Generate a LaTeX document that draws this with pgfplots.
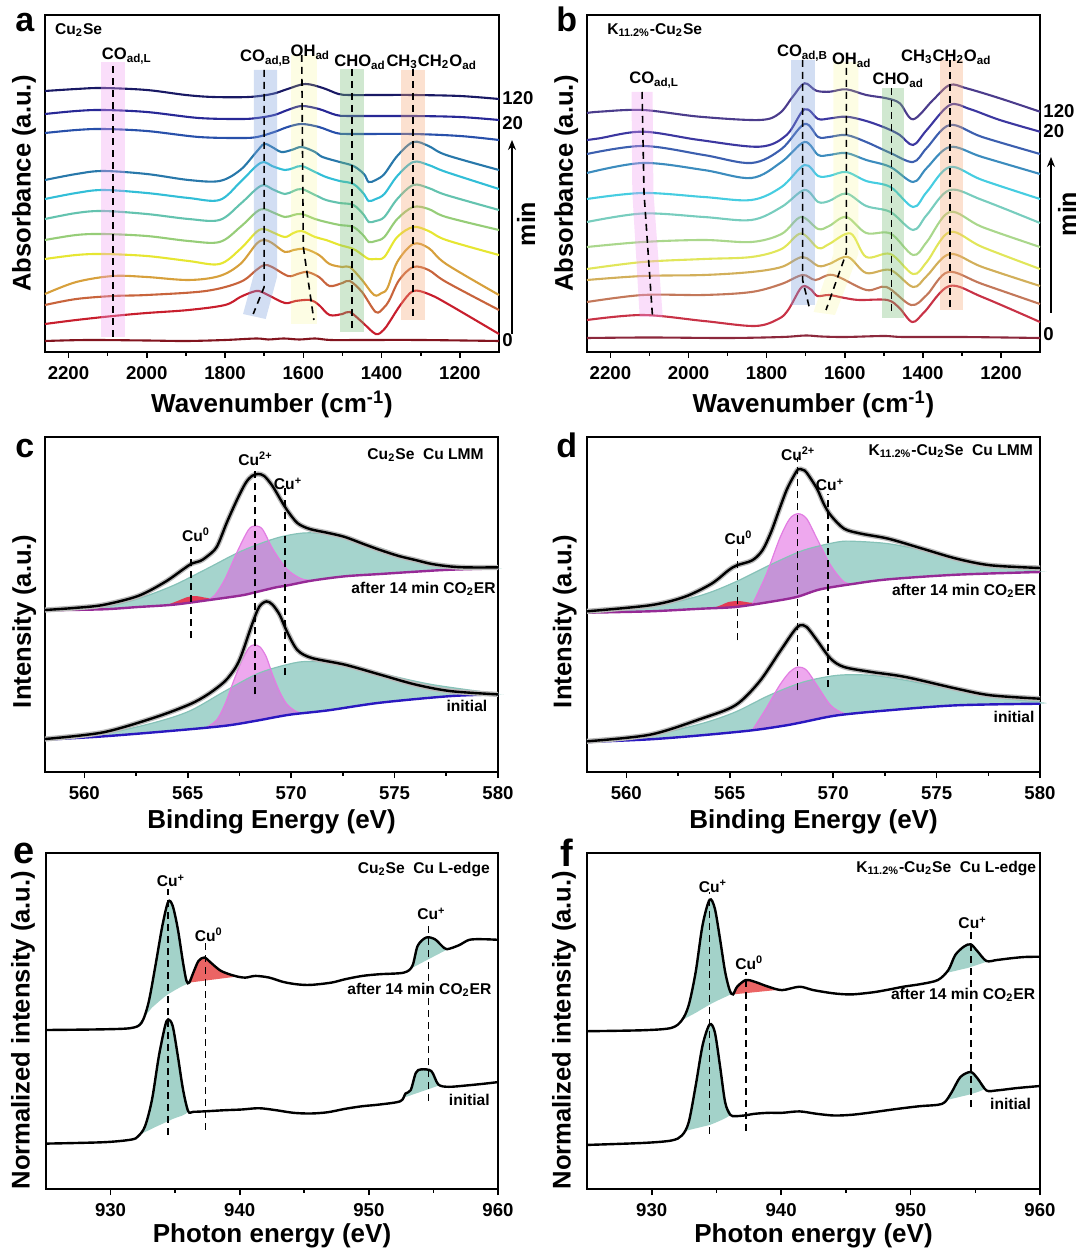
\documentclass[border=0pt]{standalone}
\usepackage{fontspec}
\setmainfont{Liberation Sans}
\usepackage{pgfplots}
\pgfplotsset{compat=1.18}
\usetikzlibrary{arrows.meta}

\definecolor{aA}{HTML}{191964}\definecolor{aB}{HTML}{282896}\definecolor{aC}{HTML}{2850AA}
\definecolor{aD}{HTML}{2878AA}\definecolor{aE}{HTML}{32BED7}\definecolor{aF}{HTML}{64C3AF}
\definecolor{aG}{HTML}{96CD78}\definecolor{aH}{HTML}{E6E632}\definecolor{aI}{HTML}{D7A03C}
\definecolor{aJ}{HTML}{C8643C}\definecolor{aK}{HTML}{C81E2D}\definecolor{aL}{HTML}{82141E}
\definecolor{bA}{HTML}{4B3C8C}\definecolor{bB}{HTML}{3C37A0}\definecolor{bC}{HTML}{3C5FAF}
\definecolor{bD}{HTML}{3C8CBE}\definecolor{bE}{HTML}{46CDE1}\definecolor{bF}{HTML}{78CDBE}
\definecolor{bG}{HTML}{AAD78C}\definecolor{bH}{HTML}{E1E65A}\definecolor{bI}{HTML}{D2AF5A}
\definecolor{bJ}{HTML}{C3785A}\definecolor{bK}{HTML}{C83246}\definecolor{bL}{HTML}{8C283C}
\definecolor{bandPink}{HTML}{F0A0F0}\definecolor{bandBlue}{HTML}{7FA0DC}
\definecolor{bandYel}{HTML}{F5F578}\definecolor{bandGreen}{HTML}{78BE78}
\definecolor{bandOra}{HTML}{F5AA78}
\definecolor{tealF}{HTML}{A5D4CD}\definecolor{tealL}{HTML}{86C2B8}
\definecolor{pinkF}{HTML}{E060E0}\definecolor{pinkL}{HTML}{E27DE2}
\definecolor{redF}{HTML}{E33C55}\definecolor{bgTop}{HTML}{962A96}\definecolor{bgBot}{HTML}{2A18C0}
\definecolor{eTeal}{HTML}{A3D2C9}\definecolor{eRed}{HTML}{EB6464}

\pgfplotsset{
  base/.style={scale only axis, clip=false, axis line style={line width=0.9pt},
    every tick/.style={black, line width=0.8pt}, tick align=outside, xtick pos=bottom,
    ytick=\empty, major tick length=3pt, minor tick length=1.8pt, minor x tick num=1,
    /pgf/number format/assume math mode=true, /pgf/number format/1000 sep={},
    xticklabel style={font=\bfseries\fontsize{9.3}{10}\selectfont, anchor=base, yshift=-10.6pt},
    xlabel style={font=\bfseries\fontsize{13}{14}\selectfont, at={(axis description cs:0.5,0)}, anchor=base},
    ylabel style={font=\bfseries\fontsize{12.8}{14}\selectfont, anchor=center}},
  cv/.style={line width=1.05pt, smooth, tension=0.55, forget plot},
  dsh/.style={black, line width=0.8pt, dash pattern=on 3.5pt off 2.5pt, forget plot},
  band/.style={draw=none, fill opacity=0.35, forget plot},
  blk/.style={black, line width=1.2pt, smooth, tension=0.5, forget plot},
  rawl/.style={gray!55, line width=2.6pt, smooth, tension=0.5, forget plot},
  area/.style={draw=none, smooth, tension=0.5, forget plot},
}
\tikzset{
  lblA/.style={font=\bfseries\fontsize{8.3}{9}\selectfont, inner sep=0pt},
  lblS/.style={font=\bfseries\fontsize{7.8}{9}\selectfont, inner sep=0pt},
  rlbl/.style={font=\bfseries\fontsize{9.3}{10}\selectfont, inner sep=0pt, anchor=west, xshift=1.5pt},
  letter/.style={font=\bfseries\fontsize{17}{17}\selectfont, inner sep=0pt, anchor=base west},
}

\begin{document}
\begin{tikzpicture}
\path[use as bounding box] (0,0) rectangle (540pt,-628pt);

%%%%%%%%%%%%%%%% a
\begin{axis}[base, at={(22.5pt,-176pt)}, anchor=south west, width=227pt, height=168.5pt,
  x dir=reverse, xmin=1100, xmax=2260, ymin=0, ymax=337, xtick={1200,1400,...,2200},
  xlabel={Wavenumber (cm\textsuperscript{-1})}, xlabel style={yshift=-30.3pt},
  ylabel={Absorbance (a.u.)}, ylabel style={at={(axis description cs:-0.046,0.5)}}]
\addplot[aA,cv] coordinates {(2260,261) (2180,263) (2112,264) (2000,262) (1900,257) (1830,255) (1740,255) (1680,258) (1640,263) (1595,268) (1550,264) (1510,258) (1480,257) (1400,257) (1320,257) (1200,256) (1100,253)};
\addplot[aB,cv] coordinates {(2260,238) (2180,241) (2112,242) (2000,240) (1867,234) (1760,233) (1718,234) (1674,237) (1640,242) (1604,246) (1560,243) (1516,237) (1480,236) (1323,236) (1200,235) (1100,232)};
\addplot[aC,cv] coordinates {(2260,219) (2180,222) (2112,223) (2000,221) (1867,215) (1760,214) (1718,215) (1674,220) (1640,225) (1604,228) (1560,225) (1516,219) (1480,218) (1323,218) (1200,216) (1100,212)};
\addplot[aD,cv] coordinates {(2260,172) (2180,178) (2112,181) (2000,178) (1893,172) (1814,171) (1761,182) (1720,200) (1700,208) (1680,205) (1656,200) (1630,202) (1604,205) (1570,200) (1551,195) (1507,190) (1472,186) (1445,178) (1433,170) (1415,172) (1393,178) (1360,196) (1319,210) (1280,206) (1235,197) (1100,182)};
\addplot[aE,cv] coordinates {(2260,153) (2180,159) (2112,162) (2000,159) (1893,154) (1814,152) (1761,170) (1720,186) (1700,190) (1680,186) (1647,182) (1625,184) (1604,186) (1570,180) (1542,175) (1507,171) (1472,168) (1445,158) (1433,151) (1415,153) (1393,158) (1360,176) (1319,190) (1280,187) (1235,180) (1100,163)};
\addplot[aF,cv] coordinates {(2260,133) (2180,139) (2112,141) (2000,138) (1893,133) (1814,132) (1761,148) (1720,163) (1700,167) (1680,163) (1647,158) (1625,161) (1604,163) (1570,157) (1542,152) (1507,149) (1472,147) (1445,137) (1433,130) (1415,131) (1393,135) (1360,153) (1319,167) (1280,164) (1235,157) (1100,142)};
\addplot[aG,cv] coordinates {(2260,112) (2180,117) (2112,118) (2000,116) (1893,111) (1814,110) (1761,125) (1720,140) (1700,143) (1680,140) (1647,135) (1625,137) (1604,138) (1570,133) (1542,130) (1507,127) (1472,125) (1445,116) (1433,110) (1415,111) (1393,115) (1360,133) (1319,145) (1280,143) (1235,135) (1100,122)};
\addplot[aH,cv] coordinates {(2260,93) (2180,97) (2112,98) (2000,96) (1893,91) (1814,88) (1761,103) (1720,120) (1700,123) (1680,120) (1647,115) (1625,119) (1604,121) (1570,115) (1542,112) (1507,107) (1472,103) (1445,96) (1433,93) (1415,93) (1393,95) (1360,115) (1319,125) (1280,121) (1235,112) (1100,97)};
\addplot[aI,cv] coordinates {(2260,58) (2180,70) (2086,76) (2000,75) (1893,72) (1814,76) (1761,88) (1720,108) (1700,112) (1680,109) (1647,100) (1625,102) (1595,103) (1560,97) (1533,88) (1500,85) (1481,85) (1450,72) (1419,57) (1400,59) (1385,64) (1360,90) (1319,108) (1280,104) (1235,88) (1100,57)};
\addplot[aJ,cv] coordinates {(2260,47) (2180,53) (2086,56) (2000,57) (1849,61) (1761,70) (1720,82) (1700,87) (1680,85) (1639,76) (1615,78) (1590,80) (1560,75) (1533,66) (1500,69) (1481,71) (1450,60) (1415,40) (1395,44) (1380,52) (1355,72) (1319,85) (1280,82) (1235,70) (1100,42)};
\addplot[aK,cv] coordinates {(2260,28) (2180,32) (2086,36) (2000,39) (1893,42) (1800,47) (1761,55) (1730,60) (1713,61) (1690,57) (1647,49) (1620,51) (1582,52) (1560,47) (1533,37) (1500,38) (1481,40) (1450,30) (1415,18) (1395,22) (1380,30) (1350,48) (1319,61) (1280,58) (1235,49) (1100,18)};
\addplot[aL,cv] coordinates {(2260,11) (2150,12) (2000,11.5) (1900,11) (1800,12) (1720,13.5) (1690,12.5) (1650,13.5) (1610,12.5) (1570,13.5) (1530,12) (1450,12) (1300,12) (1100,11)};
\addplot[band, fill=bandPink] coordinates {(2117,15) (2055,15) (2055,290) (2117,290)} -- cycle;
\addplot[band, fill=bandBlue] coordinates {(1726,282) (1667,282) (1667,75) (1696,33) (1754,38) (1726,78)} -- cycle;
\addplot[band, fill=bandYel, fill opacity=0.2] coordinates {(1632,297) (1564,297) (1564,28) (1632,28)} -- cycle;
\addplot[band, fill=bandGreen] coordinates {(1505,283) (1444,283) (1444,20) (1505,20)} -- cycle;
\addplot[band, fill=bandOra] coordinates {(1351,282) (1288,282) (1288,32) (1351,32)} -- cycle;
\addplot[dsh] coordinates {(2086,15) (2086,288)};
\addplot[dsh] coordinates {(1700,282) (1700,65) (1728,38)};
\addplot[dsh] coordinates {(1604,297) (1600,105) (1573,32)};
\addplot[dsh] coordinates {(1475,283) (1475,20)};
\addplot[dsh] coordinates {(1319,283) (1319,35)};
\node[lblA, font=\bfseries\fontsize{7.8}{9}\selectfont, anchor=west] at (axis cs:2235,322) {Cu\textsubscript{2}Se};
\node[lblA] at (axis cs:2051,296) {CO\textsubscript{ad,L}};
\node[lblA] at (axis cs:1696,294) {CO\textsubscript{ad,B}};
\node[lblA] at (axis cs:1582,300) {OH\textsubscript{ad}};
\node[lblA] at (axis cs:1455,290) {CHO\textsubscript{ad}};
\node[lblA] at (axis cs:1272,290) {CH\textsubscript{3}CH\textsubscript{2}O\textsubscript{ad}};
\node[rlbl] at (axis cs:1100,254) {120};
\node[rlbl] at (axis cs:1100,229) {20};
\node[rlbl] at (axis cs:1100,12) {0};
\draw[line width=0.7pt, -{Stealth[length=5pt,width=4pt]}] ([xshift=6.5pt]axis cs:1100,18) -- ([xshift=6.5pt]axis cs:1100,212);
\node[font=\bfseries\fontsize{12.5}{13}\selectfont, rotate=90, inner sep=0pt] at ([xshift=13.5pt]axis cs:1100,128) {min};
\end{axis}

%%%%%%%%%%%%%%%% b
\begin{axis}[base, at={(293.5pt,-176pt)}, anchor=south west, width=226.5pt, height=168.5pt,
  x dir=reverse, xmin=1100, xmax=2260, ymin=0, ymax=337, xtick={1200,1400,...,2200},
  xlabel={Wavenumber (cm\textsuperscript{-1})}, xlabel style={yshift=-30.3pt},
  ylabel={Absorbance (a.u.)}, ylabel style={at={(axis description cs:-0.046,0.5)}}]
\addplot[bA,cv] coordinates {(2260,239) (2228,240.3) (2117,242) (1972,235.3) (1818,232) (1767,238.7) (1733,255.3) (1703,268.7) (1673,261.3) (1638,260.3) (1596,262.7) (1545,257) (1493,253.7) (1459,248.7) (1425,232.7) (1374,252) (1331,267) (1288,263.7) (1203,253.7) (1100,240.3)};
\addplot[bB,cv] coordinates {(2260,212) (2228,213.7) (2117,220.3) (1972,212) (1818,205.3) (1749,217) (1703,242.7) (1668,233) (1640,233.5) (1596,235.3) (1545,231) (1493,223.7) (1459,217) (1425,207) (1390,222) (1331,247) (1280,243) (1203,232) (1100,220.3)};
\addplot[bC,cv] coordinates {(2260,198) (2117,206) (1961,197) (1839,189) (1762,203) (1703,228) (1668,215) (1640,215) (1596,217) (1545,210) (1483,199) (1425,190) (1390,204) (1331,227) (1248,215) (1100,198)};
\addplot[bD,cv] coordinates {(2260,179) (2117,189) (1961,182) (1839,174) (1762,190) (1703,210) (1668,197) (1640,197) (1596,199) (1545,192) (1483,185) (1425,170) (1390,184) (1331,205) (1248,195) (1100,178)};
\addplot[bE,cv] coordinates {(2260,153) (2117,159) (1961,155) (1839,152) (1762,165) (1703,187) (1668,176) (1640,176) (1596,180) (1545,171) (1483,165) (1425,145) (1390,160) (1331,185) (1248,172) (1100,153)};
\addplot[bF,cv] coordinates {(2260,130) (2117,138.5) (1961,135) (1839,132) (1762,145) (1703,162) (1668,150) (1640,151) (1596,158.5) (1545,146) (1483,140) (1425,122) (1390,137) (1331,162) (1248,152) (1100,129)};
\addplot[bG,cv] coordinates {(2260,105) (2117,110) (1961,112) (1839,110) (1762,118) (1712,135) (1668,123) (1640,126) (1596,135) (1545,119) (1483,118.5) (1425,97) (1390,110) (1331,140) (1248,125) (1100,105)};
\addplot[bH,cv] coordinates {(2260,83) (2117,90) (1961,93) (1839,95) (1762,103) (1712,118.5) (1668,104) (1640,108) (1585,118.5) (1545,95) (1483,98) (1425,78) (1390,90) (1331,120) (1248,105) (1100,83)};
\addplot[bI,cv] coordinates {(2260,72) (2117,76) (1961,77) (1839,80) (1762,85) (1708,95) (1668,86) (1640,88) (1592,95) (1545,79) (1483,82) (1425,65) (1390,76) (1331,98) (1248,85) (1100,66)};
\addplot[bJ,cv] coordinates {(2260,50) (2117,57) (1961,57) (1839,60) (1762,68) (1708,77) (1675,72) (1630,77) (1545,62) (1493,65) (1430,47) (1390,57) (1335,80) (1248,68) (1100,48)};
\addplot[bK,cv] coordinates {(2260,32) (2117,37) (1961,31) (1830,26) (1770,33) (1745,42) (1716,62) (1703,66) (1685,62) (1670,56) (1640,57) (1600,54) (1563,52) (1491,52) (1460,44) (1427,30) (1396,40) (1332,66) (1248,55) (1100,30)};
\addplot[bL,cv] coordinates {(2260,14) (2100,14.5) (1900,14) (1760,15) (1700,16.5) (1660,15.5) (1600,15) (1500,16) (1450,15) (1300,15) (1100,14)};
\addplot[band, fill=bandPink] coordinates {(2146,260) (2092,260) (2090,160) (2066,35) (2125,35) (2144,160)} -- cycle;
\addplot[band, fill=bandBlue] coordinates {(1737,292) (1677,292) (1677,47) (1737,47)} -- cycle;
\addplot[band, fill=bandYel, fill opacity=0.2] coordinates {(1629,290) (1565,290) (1565,98) (1625,37) (1680,40) (1629,98)} -- cycle;
\addplot[band, fill=bandGreen] coordinates {(1505,264) (1448,264) (1448,34) (1505,34)} -- cycle;
\addplot[band, fill=bandOra] coordinates {(1357,292) (1297,292) (1297,42) (1357,42)} -- cycle;
\addplot[dsh] coordinates {(2119,260) (2114,159) (2092,34)};
\addplot[dsh] coordinates {(1708,292) (1708,72) (1691,45)};
\addplot[dsh] coordinates {(1596,284) (1596,99) (1648,42)};
\addplot[dsh] coordinates {(1480,264) (1480,37)};
\addplot[dsh] coordinates {(1331,292) (1331,42)};
\node[lblA, font=\bfseries\fontsize{7.8}{9}\selectfont, anchor=west] at (axis cs:2209,322) {K\textsubscript{11.2\%}-Cu\textsubscript{2}Se};
\node[lblA] at (axis cs:2088,272) {CO\textsubscript{ad,L}};
\node[lblA] at (axis cs:1708,299) {CO\textsubscript{ad,B}};
\node[lblA] at (axis cs:1582,292) {OH\textsubscript{ad}};
\node[lblA] at (axis cs:1463,272) {CHO\textsubscript{ad}};
\node[lblA] at (axis cs:1340,295) {CH\textsubscript{3}CH\textsubscript{2}O\textsubscript{ad}};
\node[rlbl] at (axis cs:1100,241) {120};
\node[rlbl] at (axis cs:1100,221) {20};
\node[rlbl] at (axis cs:1100,18) {0};
\draw[line width=0.7pt, -{Stealth[length=5pt,width=4pt]}] ([xshift=5.5pt]axis cs:1100,39) -- ([xshift=5.5pt]axis cs:1100,195);
\node[font=\bfseries\fontsize{12.5}{13}\selectfont, rotate=90, inner sep=0pt] at ([xshift=13.5pt]axis cs:1100,138) {min};
\end{axis}

%%%%%%%%%%%%%%%% c
\begin{axis}[base, at={(22.5pt,-386pt)}, anchor=south west, width=226.5pt, height=167.5pt,
  xmin=558.1, xmax=580, ymin=0, ymax=335, xtick={560,565,...,580},
  xlabel={Binding Energy (eV)}, xlabel style={yshift=-28pt},
  ylabel={Intensity (a.u.)}, ylabel style={at={(axis description cs:-0.046,0.45)}}]
\addplot[area, fill=tealF] coordinates {(558.1,162.0) (560.9,165) (562.6,173.3) (564.3,186.5) (565.9,203) (567.6,221) (569.3,234) (570.6,239) (571.8,237.6) (573.5,229.4) (575.2,217.8) (576.8,208.9) (578.5,204.6) (580,204) (580,203.6) (577.7,202.3) (576.0,200.3) (574.3,198) (572.6,195.7) (571.0,191.4) (569.8,186.5) (569.3,184.8) (568.3,179.9) (567.6,176.6) (565.9,171.6) (564.3,167.3) (562.6,165) (560.9,162.7) (558.1,161.7)} -- cycle;
\addplot[area, fill=pinkF, fill opacity=0.55] coordinates {(565.9,171.6) (566.3,176.6) (566.8,193) (567.45,222.8) (567.95,242.6) (568.28,246) (568.62,242.6) (569.12,222.8) (569.79,203) (570.46,193.5) (570.96,191.4) (569.8,186.5) (569.3,184.8) (568.3,179.9) (567.6,176.6) (566.8,174)} -- cycle;
\addplot[area, fill=redF] coordinates {(564.0,167) (564.5,171) (565.0,175) (565.4,176) (565.8,174.5) (566.3,172.8) (565.9,171.6) (565.2,169.7) (564.6,168.1)} -- cycle;
\addplot[tealL, line width=0.6pt, smooth, forget plot] coordinates {(558.1,162.0) (560.9,165) (562.6,173.3) (564.3,186.5) (565.9,203) (567.6,221) (569.3,234) (570.6,239) (571.8,237.6) (573.5,229.4) (575.2,217.8) (576.8,208.9) (578.5,204.6) (580,204)};
\addplot[pinkL, line width=0.6pt, smooth, forget plot] coordinates {(565.9,171.6) (566.3,176.6) (566.8,193) (567.45,222.8) (567.95,242.6) (568.28,246) (568.62,242.6) (569.12,222.8) (569.79,203) (570.46,193.5) (570.96,191.4)};
\addplot[bgTop, line width=1.2pt, smooth, forget plot] coordinates {(558.1,161.7) (560.9,162.7) (562.6,165) (564.3,167.3) (565.9,171.6) (567.6,176.6) (568.3,179.9) (569.3,184.8) (569.8,186.5) (571.0,191.4) (572.6,195.7) (574.3,198) (576.0,200.3) (577.7,202.3) (580,203.6)};
\addplot[rawl] coordinates {(558.1,162) (559.5,164) (560.9,167) (562.6,176) (563.9,190) (564.8,203) (565.2,208.5) (565.6,211) (565.9,215) (566.4,225) (566.9,250) (567.4,273) (567.8,289) (568.1,296) (568.4,298) (568.7,296) (569.1,286) (569.5,272) (569.8,262) (570.3,249) (570.9,243) (571.8,239) (572.6,235) (573.5,228) (574.3,222) (575.2,216) (576.0,212) (576.8,208) (577.7,205.5) (578.5,204.6) (580,204.6)};
\addplot[blk] coordinates {(558.1,162) (559.5,164) (560.9,167) (562.6,176) (563.9,190) (564.8,203) (565.2,208.5) (565.6,211) (565.9,215) (566.4,225) (566.9,250) (567.4,273) (567.8,289) (568.1,296) (568.4,298) (568.7,296) (569.1,286) (569.5,272) (569.8,262) (570.3,249) (570.9,243) (571.8,239) (572.6,235) (573.5,228) (574.3,222) (575.2,216) (576.0,212) (576.8,208) (577.7,205.5) (578.5,204.6) (580,204.6)};
\addplot[area, fill=tealF] coordinates {(558.1,32.3) (560.9,38) (563.4,49.5) (565.1,61.1) (566.8,80.9) (568.45,99) (570.1,108.9) (571.0,110.6) (572.6,108.9) (574.3,99) (576.8,87.5) (580,78.2) (580,77.6) (577.7,75.9) (574.3,69.3) (571.8,61.7) (570.1,57.8) (569.3,55.1) (568.3,51.2) (566.8,46.2) (564.3,41.3) (560.9,35.6) (558.1,32.3)} -- cycle;
\addplot[area, fill=pinkF, fill opacity=0.55] coordinates {(565.9,44.4) (566.4,52) (566.8,67.7) (567.2,90) (567.6,110.6) (567.95,124) (568.2,127.1) (568.5,125) (568.8,115) (569.1,97.4) (569.45,80) (569.8,67.7) (570.3,60) (570.8,59.5) (571.2,60.3) (570.1,57.8) (569.3,55.1) (568.3,51.2) (566.8,46.2)} -- cycle;
\addplot[tealL, line width=0.6pt, smooth, forget plot] coordinates {(558.1,32.3) (560.9,38) (563.4,49.5) (565.1,61.1) (566.8,80.9) (568.45,99) (570.1,108.9) (571.0,110.6) (572.6,108.9) (574.3,99) (576.8,87.5) (580,78.2)};
\addplot[pinkL, line width=0.6pt, smooth, forget plot] coordinates {(565.9,44.4) (566.4,52) (566.8,67.7) (567.2,90) (567.6,110.6) (567.95,124) (568.2,127.1) (568.5,125) (568.8,115) (569.1,97.4) (569.45,80) (569.8,67.7) (570.3,60) (570.8,59.5) (571.2,60.3)};
\addplot[bgBot, line width=1.2pt, smooth, forget plot] coordinates {(558.1,32.3) (560.9,35.6) (564.3,41.3) (566.8,46.2) (568.3,51.2) (569.3,55.1) (570.1,57.8) (571.8,61.7) (574.3,69.3) (577.7,75.9) (580,77.6)};
\addplot[rawl] coordinates {(558.1,33) (560.9,39.6) (563.4,54.5) (565.1,67.7) (566.0,78) (566.8,90.8) (567.3,104) (567.6,117) (568.1,147) (568.45,165) (568.8,170.6) (569.1,167.3) (569.45,157) (569.8,140.3) (570.3,122) (571.0,114) (572.6,107.3) (574.3,97.4) (576.0,87.5) (577.7,80.9) (580,77.6)};
\addplot[blk] coordinates {(558.1,33) (560.9,39.6) (563.4,54.5) (565.1,67.7) (566.0,78) (566.8,90.8) (567.3,104) (567.6,117) (568.1,147) (568.45,165) (568.8,170.6) (569.1,167.3) (569.45,157) (569.8,140.3) (570.3,122) (571.0,114) (572.6,107.3) (574.3,97.4) (576.0,87.5) (577.7,80.9) (580,77.6)};
\addplot[dsh] coordinates {(565.15,134) (565.15,226)};
\addplot[dsh] coordinates {(568.25,77.6) (568.25,303.6)};
\addplot[dsh] coordinates {(569.71,97) (569.71,284)};
\node[lblS] at (axis cs:565.4,237) {Cu\textsuperscript{0}};
\node[lblS] at (axis cs:568.28,313) {Cu\textsuperscript{2+}};
\node[lblS] at (axis cs:569.85,288) {Cu\textsuperscript{+}};
\node[lblS, anchor=east] at (axis cs:579.33,317) {Cu\textsubscript{2}Se\ \ Cu LMM};
\node[lblS, anchor=east] at (axis cs:579.9,183) {after 14 min CO\textsubscript{2}ER};
\node[lblS, anchor=east] at (axis cs:579.5,66) {initial};
\end{axis}

%%%%%%%%%%%%%%%% d
\begin{axis}[base, at={(293.5pt,-386pt)}, anchor=south west, width=226.5pt, height=167.5pt,
  xmin=558.1, xmax=580, ymin=0, ymax=335, xtick={560,565,...,580},
  xlabel={Binding Energy (eV)}, xlabel style={yshift=-28pt},
  ylabel={Intensity (a.u.)}, ylabel style={at={(axis description cs:-0.049,0.45)}}]
\addplot[area, fill=tealF] coordinates {(558.1,160) (561.15,165) (563.62,176.7) (565.27,190) (566.91,206.7) (568.56,221.7) (570.21,230) (571.03,230.7) (572.67,228.3) (574.32,221.7) (575.97,213.3) (577.61,206.7) (580,200.7) (580,200) (575.97,197.3) (572.67,192.7) (571.03,188.3) (569.38,182.7) (568.23,175) (566.91,170) (565.27,165) (563.62,163.3) (561.15,160.7) (558.1,159.3)} -- cycle;
\addplot[area, fill=pinkF, fill opacity=0.55] coordinates {(566.09,167.5) (566.75,196.7) (567.41,233.3) (567.90,253.3) (568.31,258.3) (568.72,253.3) (569.22,233.3) (569.88,206.7) (570.53,190) (571.03,188.3) (569.38,182.7) (568.23,175) (566.91,170)} -- cycle;
\addplot[area, fill=redF] coordinates {(564.2,164) (564.6,167) (564.94,170) (565.43,171) (565.93,169.5) (566.42,168.5) (565.93,167) (565.27,165) (564.7,164.4)} -- cycle;
\addplot[tealL, line width=0.6pt, smooth, forget plot] coordinates {(558.1,160) (561.15,165) (563.62,176.7) (565.27,190) (566.91,206.7) (568.56,221.7) (570.21,230) (571.03,230.7) (572.67,228.3) (574.32,221.7) (575.97,213.3) (577.61,206.7) (580,200.7)};
\addplot[pinkL, line width=0.6pt, smooth, forget plot] coordinates {(566.09,167.5) (566.75,196.7) (567.41,233.3) (567.90,253.3) (568.31,258.3) (568.72,253.3) (569.22,233.3) (569.88,206.7) (570.53,190) (571.03,188.3)};
\addplot[bgTop, line width=1.2pt, smooth, forget plot] coordinates {(558.1,159.3) (561.15,160.7) (563.62,163.3) (565.27,165) (566.91,170) (568.23,175) (569.38,182.7) (571.03,188.3) (572.67,192.7) (575.97,197.3) (580,200)};
\addplot[rawl] coordinates {(558.1,160.7) (561.15,166.7) (562.80,175) (564.12,188.3) (564.94,201.7) (565.35,206.7) (566.09,211.7) (566.58,221.7) (567.0,240) (567.41,263.3) (567.75,282) (568.07,295) (568.31,302.7) (568.55,302) (568.72,299.3) (569.22,283.3) (569.55,268) (569.88,256.7) (570.53,243.3) (571.36,238.3) (572.67,233.3) (574.32,223.3) (575.97,213.3) (577.61,206.7) (580,204)};
\addplot[blk] coordinates {(558.1,160.7) (561.15,166.7) (562.80,175) (564.12,188.3) (564.94,201.7) (565.35,206.7) (566.09,211.7) (566.58,221.7) (567.0,240) (567.41,263.3) (567.75,282) (568.07,295) (568.31,302.7) (568.55,302) (568.72,299.3) (569.22,283.3) (569.55,268) (569.88,256.7) (570.53,243.3) (571.36,238.3) (572.67,233.3) (574.32,223.3) (575.97,213.3) (577.61,206.7) (580,204)};
\addplot[area, fill=tealF] coordinates {(558.1,30.7) (561.15,36.7) (563.62,48.3) (565.27,60) (566.91,76.7) (568.56,90) (570.21,96.7) (571.85,96.7) (573.50,91.7) (575.97,81.7) (577.61,75) (580,70) (580,68.3) (575.97,66.7) (572.67,61.7) (570.21,56.7) (568.56,50) (567.74,46.7) (566.09,41.7) (563.62,36.7) (561.15,32.7) (558.1,30)} -- cycle;
\addplot[area, fill=pinkF, fill opacity=0.55] coordinates {(566.09,41.7) (566.75,63.3) (567.41,86.7) (567.90,100) (568.31,105) (568.72,101.7) (569.22,86.7) (569.88,66.7) (570.53,58.5) (571.03,58.4) (570.21,56.7) (568.56,50) (567.74,46.7)} -- cycle;
\addplot[tealL, line width=0.6pt, smooth, forget plot] coordinates {(558.1,30.7) (561.15,36.7) (563.62,48.3) (565.27,60) (566.91,76.7) (568.56,90) (570.21,96.7) (571.85,96.7) (573.50,91.7) (575.97,81.7) (577.61,75) (580,70)};
\addplot[pinkL, line width=0.6pt, smooth, forget plot] coordinates {(566.09,41.7) (566.75,63.3) (567.41,86.7) (567.90,100) (568.31,105) (568.72,101.7) (569.22,86.7) (569.88,66.7) (570.53,58.5) (571.03,58.4)};
\addplot[bgBot, line width=1.2pt, smooth, forget plot] coordinates {(558.1,30) (561.15,32.7) (563.62,36.7) (566.09,41.7) (567.74,46.7) (568.56,50) (570.21,56.7) (572.67,61.7) (575.97,66.7) (580,68.3)};
\addplot[rawl] coordinates {(558.1,30.7) (561.15,37.3) (563.62,53.3) (565.27,66.7) (566.42,90) (567.41,120) (568.07,140) (568.39,146.7) (568.72,145) (569.22,131.7) (569.88,113.3) (570.53,105) (571.85,100) (573.50,95) (575.97,83.3) (577.61,76.7) (580,73.3)};
\addplot[blk] coordinates {(558.1,30.7) (561.15,37.3) (563.62,53.3) (565.27,66.7) (566.42,90) (567.41,120) (568.07,140) (568.39,146.7) (568.72,145) (569.22,131.7) (569.88,113.3) (570.53,105) (571.85,100) (573.50,95) (575.97,83.3) (577.61,76.7) (580,73.3)};
\addplot[dsh] coordinates {(565.38,131.7) (565.38,223.3)};
\addplot[dsh] coordinates {(568.28,81.7) (568.28,315)};
\addplot[dsh] coordinates {(569.74,85) (569.74,278.3)};
\node[lblS] at (axis cs:565.43,234) {Cu\textsuperscript{0}};
\node[lblS] at (axis cs:568.31,318) {Cu\textsuperscript{2+}};
\node[lblS] at (axis cs:569.85,287) {Cu\textsuperscript{+}};
\node[lblS, anchor=east] at (axis cs:579.67,321) {K\textsubscript{11.2\%}-Cu\textsubscript{2}Se\ \ Cu LMM};
\node[lblS, anchor=east] at (axis cs:579.83,181) {after 14 min CO\textsubscript{2}ER};
\node[lblS, anchor=east] at (axis cs:579.75,55) {initial};
\end{axis}

%%%%%%%%%%%%%%%% e
\begin{axis}[base, at={(23pt,-594.5pt)}, anchor=south west, width=226pt, height=168pt,
  xmin=925, xmax=960, ymin=0, ymax=336, xtick={930,940,950,960},
  xlabel={Photon energy (eV)}, xlabel style={yshift=-26.5pt},
  ylabel={Normalized intensity (a.u.)}, ylabel style={at={(axis description cs:-0.051,0.473)}}]
\addplot[area, fill=eTeal] coordinates {(932.14,164.7) (932.40,166.3) (932.94,186.4) (933.47,223.1) (934.01,263.2) (934.46,287.2) (934.81,283.2) (935.21,259.9) (935.61,226.5) (935.88,208.1) (936.09,206.4) (935.34,201.4) (934.27,193.1) (933.21,181.4)} -- cycle;
\addplot[area, fill=eRed] coordinates {(936.09,206.4) (936.41,216.4) (936.81,228.1) (937.27,231.5) (937.75,226.5) (938.55,218.1) (939.62,213.1) (939.88,212.6)} -- cycle;
\addplot[area, fill=eTeal] coordinates {(952.97,218.5) (953.37,223.1) (953.78,243.2) (954.44,251.5) (955.11,249.8) (955.65,243.2) (956.05,239.8) (956.18,240.3) (954.5,229)} -- cycle;
\addplot[area, fill=eTeal] coordinates {(932.27,54.4) (932.67,62.8) (933.21,89.5) (933.74,132.9) (934.22,163) (934.46,169.7) (934.81,163) (935.21,132.9) (935.61,99.5) (936.01,77.8) (934.81,70) (933.47,62)} -- cycle;
\addplot[area, fill=eTeal] coordinates {(952.6,90.9) (952.84,95.5) (953.24,98.9) (953.64,116.2) (954.04,119.6) (954.84,117.9) (955.38,104.5) (955.51,104) (954.2,98)} -- cycle;
\addplot[blk] coordinates {(925,159) (929.47,159.7) (931.60,161) (932.40,166.3) (932.94,186.4) (933.47,223.1) (934.01,263.2) (934.46,287.2) (934.81,283.2) (935.21,259.9) (935.61,226.5) (935.88,208.1) (936.09,206.4) (936.41,216.4) (936.81,228.1) (937.27,231.5) (937.75,226.5) (938.55,218.1) (939.62,213.1) (940.42,211.4) (941.22,213.1) (942.29,211.4) (943.36,207.1) (944.43,204.7) (945.49,204.1) (947.10,206.4) (948.17,209.8) (949.50,213.1) (950.84,214.8) (952.71,216.4) (953.37,223.1) (953.78,243.2) (954.44,251.5) (955.11,249.8) (955.65,243.2) (956.05,239.8) (956.98,243.8) (957.78,249.2) (958.85,249.8) (960,249.2)};
\addplot[blk] coordinates {(925,45.4) (929.47,46.8) (931.60,49.4) (932.14,52.8) (932.67,62.8) (933.21,89.5) (933.74,132.9) (934.22,163) (934.46,169.7) (934.81,163) (935.21,132.9) (935.61,99.5) (936.01,77.8) (936.41,77.2) (937.48,77.8) (938.82,78.8) (940.15,79.5) (941.49,80.8) (942.82,78.8) (944.16,76.2) (945.49,75.5) (946.83,76.8) (948.17,80.2) (949.50,82.8) (950.84,84.5) (952.44,87.8) (952.84,95.5) (953.24,98.9) (953.64,116.2) (954.04,119.6) (954.84,117.9) (955.38,104.5) (956.18,102.2) (957.52,103.5) (958.85,105.2) (960,106.9)};
\addplot[dsh] coordinates {(934.46,54.4) (934.46,299.9)};
\addplot[dsh] coordinates {(937.35,59.5) (937.35,248.2)};
\addplot[dsh] coordinates {(954.63,87.8) (954.63,264.9)};
\node[lblS] at (axis cs:934.67,308) {Cu\textsuperscript{+}};
\node[lblS] at (axis cs:937.61,254) {Cu\textsuperscript{0}};
\node[lblS] at (axis cs:954.84,275) {Cu\textsuperscript{+}};
\node[lblS, anchor=east] at (axis cs:959.39,320) {Cu\textsubscript{2}Se\ \ Cu L-edge};
\node[lblS, anchor=east] at (axis cs:959.52,199) {after 14 min CO\textsubscript{2}ER};
\node[lblS, anchor=east] at (axis cs:959.39,89.5) {initial};
\end{axis}

%%%%%%%%%%%%%%%% f
\begin{axis}[base, at={(293.5pt,-594.5pt)}, anchor=south west, width=226.5pt, height=168pt,
  xmin=925, xmax=960, ymin=0, ymax=336, xtick={930,940,950,960},
  xlabel={Photon energy (eV)}, xlabel style={yshift=-26.5pt},
  ylabel={Normalized intensity (a.u.)}, ylabel style={at={(axis description cs:-0.051,0.473)}}]
\addplot[area, fill=eTeal] coordinates {(932.33,168.8) (932.86,183.9) (933.40,217.3) (933.93,264.1) (934.47,289.2) (934.87,280.8) (935.27,250.7) (935.67,217.3) (936.02,198.9) (936.20,195.5) (934.73,186.2) (933.40,176.2)} -- cycle;
\addplot[area, fill=eRed] coordinates {(936.28,194.6) (936.60,202.3) (937.27,209) (937.94,207.3) (939.01,202.3) (939.81,199.2)} -- cycle;
\addplot[area, fill=eTeal] coordinates {(952.65,215.7) (952.92,219) (953.45,234) (954.12,242.4) (954.65,244.7) (955.19,237.4) (955.86,228) (956.12,228.3) (954.4,221)} -- cycle;
\addplot[area, fill=eTeal] coordinates {(932.5,57.8) (932.86,66.9) (933.40,103.6) (933.93,143.7) (934.47,164.5) (934.87,157.1) (935.27,123.7) (935.67,86.9) (936.07,74.2) (934.47,64)} -- cycle;
\addplot[area, fill=eTeal] coordinates {(952.75,88.8) (953.18,96.9) (953.85,112) (954.65,117) (955.19,110.3) (955.75,100.5) (954.4,94)} -- cycle;
\addplot[blk] coordinates {(925.05,157.8) (929.39,158.8) (931.52,161.1) (932.33,168.8) (932.86,183.9) (933.40,217.3) (933.93,264.1) (934.47,289.2) (934.87,280.8) (935.27,250.7) (935.67,217.3) (936.02,198.9) (936.28,194.6) (936.60,202.3) (937.27,209) (937.94,207.3) (939.01,202.3) (940.07,198.9) (941.42,202.3) (942.49,198.9) (944.09,195.6) (945.43,194.6) (947.03,196.6) (948.10,198.9) (949.44,202.3) (950.78,204.9) (952.11,209) (952.92,219) (953.45,234) (954.12,242.4) (954.65,244.7) (955.19,237.4) (955.86,228) (956.66,229) (957.73,230.7) (958.80,232) (960,232.3)};
\addplot[blk] coordinates {(925.05,44.1) (929.39,46.1) (931.52,48.5) (932.33,53.5) (932.86,66.9) (933.40,103.6) (933.93,143.7) (934.47,164.5) (934.87,157.1) (935.27,123.7) (935.67,86.9) (936.07,74.2) (936.47,72.9) (937.14,73.5) (937.94,75.2) (939.01,76.2) (940.07,76.2) (941.42,77.6) (942.75,75.2) (944.09,73.5) (945.43,74.2) (946.76,76.2) (948.10,78.6) (949.44,80.9) (950.78,82.9) (952.11,84.2) (952.65,86.9) (953.18,96.9) (953.85,112) (954.65,117) (955.19,110.3) (955.86,98.6) (956.66,98.6) (958.26,101) (960,103)};
\addplot[dsh] coordinates {(934.47,55.2) (934.47,297.5)};
\addplot[dsh] coordinates {(937.27,58.5) (937.27,217.3)};
\addplot[dsh] coordinates {(954.65,81.9) (954.65,259.1)};
\node[lblS] at (axis cs:934.73,302.5) {Cu\textsuperscript{+}};
\node[lblS] at (axis cs:937.54,226) {Cu\textsuperscript{0}};
\node[lblS] at (axis cs:954.79,266) {Cu\textsuperscript{+}};
\node[lblS, anchor=east] at (axis cs:959.73,321) {K\textsubscript{11.2\%}-Cu\textsubscript{2}Se\ \ Cu L-edge};
\node[lblS, anchor=east] at (axis cs:959.65,194) {after 14 min CO\textsubscript{2}ER};
\node[lblS, anchor=east] at (axis cs:959.33,85) {initial};
\end{axis}

\node[letter] at (7.5pt,-16pt) {a};
\node[letter] at (278pt,-16pt) {b};
\node[letter] at (7.5pt,-229pt) {c};
\node[letter] at (278pt,-229pt) {d};
\node[letter, font=\bfseries\fontsize{19}{19}\selectfont] at (6.5pt,-431.5pt) {e};
\node[letter, font=\bfseries\fontsize{19}{19}\selectfont] at (280pt,-433pt) {f};
\end{tikzpicture}
\end{document}
